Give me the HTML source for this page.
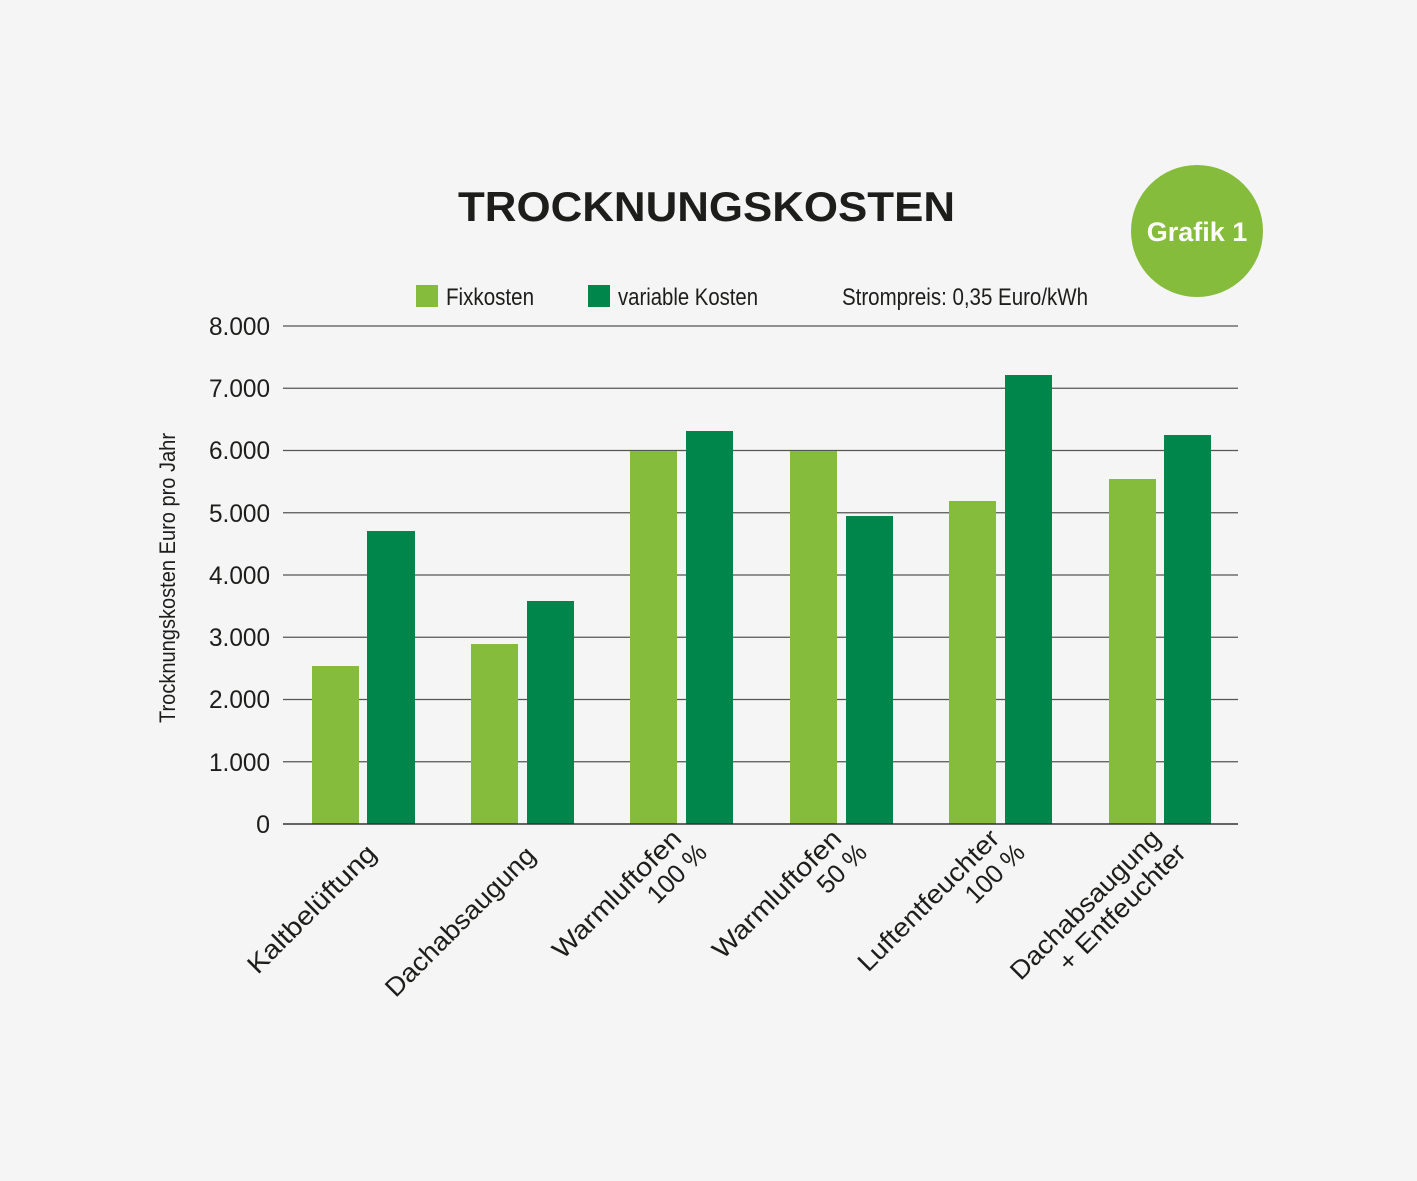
<!DOCTYPE html>
<html><head><meta charset="utf-8"><style>
html,body{margin:0;padding:0;background:#f4f5f4;}
svg{display:block}
text{font-family:"Liberation Sans Narrow","Liberation Sans",sans-serif;fill:#1d1d1b}
</style></head><body>
<svg width="1417" height="1181" viewBox="0 0 1417 1181" xmlns="http://www.w3.org/2000/svg">
<rect width="1417" height="1181" fill="#f4f5f4"/>
<text x="458" y="221" font-size="42" font-weight="bold" textLength="497" lengthAdjust="spacingAndGlyphs" style="font-family:'Liberation Sans',sans-serif">TROCKNUNGSKOSTEN</text>
<circle cx="1197" cy="231" r="66" fill="#86bc3c"/>
<text x="1197" y="241" text-anchor="middle" font-size="27" font-weight="bold" style="fill:#fff;font-family:'Liberation Sans',sans-serif">Grafik 1</text>
<rect x="416" y="285" width="22" height="22" fill="#86bc3c"/>
<text x="446" y="305" font-size="24" textLength="88" lengthAdjust="spacingAndGlyphs">Fixkosten</text>
<rect x="588" y="285" width="22" height="22" fill="#00854a"/>
<text x="618" y="305" font-size="24" textLength="140" lengthAdjust="spacingAndGlyphs">variable Kosten</text>
<text x="842" y="305" font-size="24" textLength="246" lengthAdjust="spacingAndGlyphs">Strompreis: 0,35 Euro/kWh</text>
<g stroke="#555" stroke-width="1.2">
<line x1="283" y1="326" x2="1238" y2="326"/><line x1="283" y1="388.25" x2="1238" y2="388.25"/>
<line x1="283" y1="450.5" x2="1238" y2="450.5"/><line x1="283" y1="512.75" x2="1238" y2="512.75"/>
<line x1="283" y1="575" x2="1238" y2="575"/><line x1="283" y1="637.25" x2="1238" y2="637.25"/>
<line x1="283" y1="699.5" x2="1238" y2="699.5"/><line x1="283" y1="761.75" x2="1238" y2="761.75"/>
</g>
<g font-size="25" text-anchor="end">
<text x="270" y="335" textLength="61" lengthAdjust="spacingAndGlyphs">8.000</text><text x="270" y="397" textLength="61" lengthAdjust="spacingAndGlyphs">7.000</text><text x="270" y="459" textLength="61" lengthAdjust="spacingAndGlyphs">6.000</text>
<text x="270" y="522" textLength="61" lengthAdjust="spacingAndGlyphs">5.000</text><text x="270" y="584" textLength="61" lengthAdjust="spacingAndGlyphs">4.000</text><text x="270" y="646" textLength="61" lengthAdjust="spacingAndGlyphs">3.000</text>
<text x="270" y="708" textLength="61" lengthAdjust="spacingAndGlyphs">2.000</text><text x="270" y="771" textLength="61" lengthAdjust="spacingAndGlyphs">1.000</text><text x="270" y="833">0</text>
</g>
<text transform="translate(175,578) rotate(-90)" text-anchor="middle" font-size="22" textLength="290" lengthAdjust="spacingAndGlyphs">Trocknungskosten Euro pro Jahr</text>
<g fill="#86bc3c">
<rect x="312" y="666" width="47" height="158"/><rect x="471" y="644" width="47" height="180"/>
<rect x="630" y="451" width="47" height="373"/><rect x="790" y="451" width="47" height="373"/>
<rect x="949" y="501" width="47" height="323"/><rect x="1109" y="479" width="47" height="345"/>
</g>
<g fill="#00854a">
<rect x="367" y="531" width="48" height="293"/><rect x="527" y="601" width="47" height="223"/>
<rect x="686" y="431" width="47" height="393"/><rect x="846" y="516" width="47" height="308"/>
<rect x="1005" y="375" width="47" height="449"/><rect x="1164" y="435" width="47" height="389"/>
</g>
<line x1="283" y1="824" x2="1238" y2="824" stroke="#333" stroke-width="1.5"/>
<g font-size="26" text-anchor="end">
<text transform="translate(378,855) rotate(-45)" textLength="170" lengthAdjust="spacingAndGlyphs">Kaltbelüftung</text>
<text transform="translate(537,857) rotate(-45)" textLength="200" lengthAdjust="spacingAndGlyphs">Dachabsaugung</text>
<text transform="translate(683,840) rotate(-45)"><tspan textLength="170" lengthAdjust="spacingAndGlyphs">Warmluftofen</tspan><tspan x="8" dy="28" textLength="72" lengthAdjust="spacingAndGlyphs">100 %</tspan></text>
<text transform="translate(843,840) rotate(-45)"><tspan textLength="170" lengthAdjust="spacingAndGlyphs">Warmluftofen</tspan><tspan x="8" dy="28" textLength="58" lengthAdjust="spacingAndGlyphs">50 %</tspan></text>
<text transform="translate(1001,840) rotate(-45)"><tspan textLength="188" lengthAdjust="spacingAndGlyphs">Luftentfeuchter</tspan><tspan x="8" dy="28" textLength="72" lengthAdjust="spacingAndGlyphs">100 %</tspan></text>
<text transform="translate(1162,840) rotate(-45)"><tspan textLength="200" lengthAdjust="spacingAndGlyphs">Dachabsaugung</tspan><tspan x="8" dy="28" textLength="168" lengthAdjust="spacingAndGlyphs">+ Entfeuchter</tspan></text>
</g>
</svg>
</body></html>
